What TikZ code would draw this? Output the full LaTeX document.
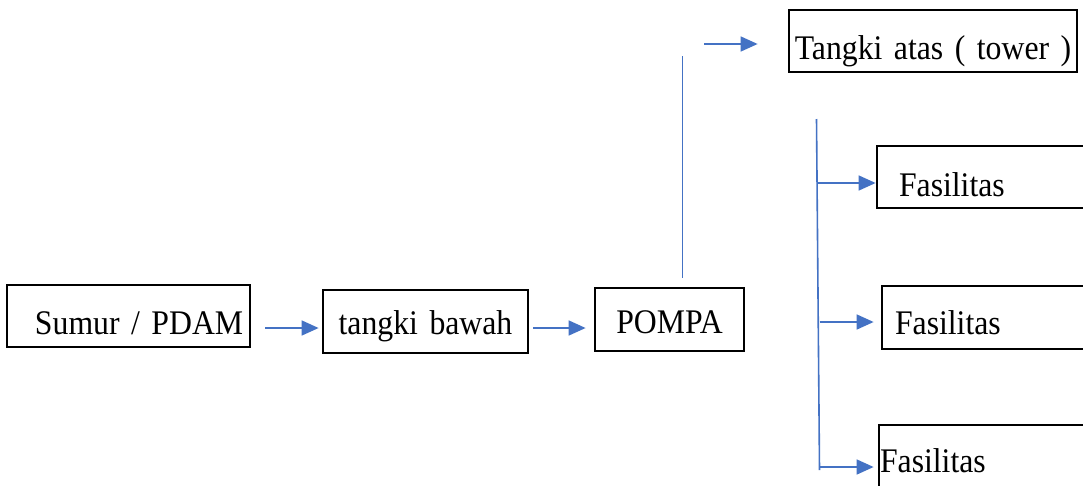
\documentclass[tikz,border=0pt]{standalone}
\usepackage{fontspec}
\setmainfont{Liberation Serif}[FakeStretch=0.92]
\usetikzlibrary{arrows.meta}
\definecolor{flowblue}{HTML}{4472C4}
\begin{document}
\begin{tikzpicture}[x=1pt,y=-1pt,
  box/.style={draw=black, line width=2.8pt, rectangle, inner xsep=0pt, inner ysep=0pt,
    font=\fontsize{34.5}{40}\selectfont, text depth=0pt},
  flow/.style={draw=flowblue, line width=1.6pt, -{Triangle[length=17pt,width=15pt]}},
  feed/.style={draw=flowblue, line width=1.6pt}]
\clip (0,0) rectangle (1083,485);
\fill[white] (0,0) rectangle (1083,485);

% main line: source -> lower tank -> pump
\node[box, minimum width=243pt, minimum height=62pt, text width=243pt, align=left, text height=36pt]
  (sumur) at (128.5,316) {\hspace*{28pt}Sumur / PDAM};
\node[box, minimum width=205pt, minimum height=63pt, text width=205pt, align=center, text height=25pt]
  (tank) at (425.5,321.5) {tangki bawah};
\node[box, minimum width=149pt, minimum height=63pt, text width=149pt, align=center, text height=27pt]
  (pump) at (669.5,319.5) {POMPA};

% upper tank
\node[box, minimum width=288pt, minimum height=62pt, text width=288pt, align=center, text height=36pt]
  (tower) at (933,41) {Tangki atas ( tower )};

% facilities
\node[box, minimum width=233pt, minimum height=62pt, text width=233pt, align=left, text height=38pt]
  (fas1) at (993.5,177) {\hspace*{22pt}Fasilitas};
\node[box, minimum width=228pt, minimum height=63pt, text width=228pt, align=left, text height=33pt]
  (fas2) at (996,317.5) {\hspace*{13pt}Fasilitas};
\node[box, minimum width=231pt, minimum height=63pt, text width=231pt, align=left, text height=31pt]
  (fas3) at (994.5,456.5) {\hspace*{1pt}Fasilitas};

% free ends of the riser and of the distribution trunk
\coordinate (riserTop) at (682.5,56);
\coordinate (towerFeed) at (704,44);
\coordinate (trunkTop) at (816.5,119);
\coordinate (trunkBot) at (819.5,470);

% connectors
\draw[flow] ([xshift=14pt,yshift=-12pt]sumur.east) -- ([xshift=-3pt,yshift=-6.5pt]tank.west);
\draw[flow] ([xshift=4pt,yshift=-6.5pt]tank.east) -- ([xshift=-8pt,yshift=-8.5pt]pump.west);
\draw[feed] ([xshift=13pt,yshift=9pt]pump.north) -- (riserTop);
\draw[flow] (towerFeed) -- ([xshift=-30pt,yshift=-3pt]tower.west);

\draw[feed] (trunkTop) -- (trunkBot);
\draw[flow] ([yshift=-6pt]fas1.west -| trunkTop) -- ([yshift=-6pt]fas1.west);
\draw[flow] ([yshift=-4.5pt]fas2.west -| trunkBot) -- ([xshift=-7pt,yshift=-4.5pt]fas2.west);
\draw[flow] ([yshift=-10.5pt]fas3.west -| trunkBot) -- ([xshift=-4pt,yshift=-10.5pt]fas3.west);
\end{tikzpicture}
\end{document}
